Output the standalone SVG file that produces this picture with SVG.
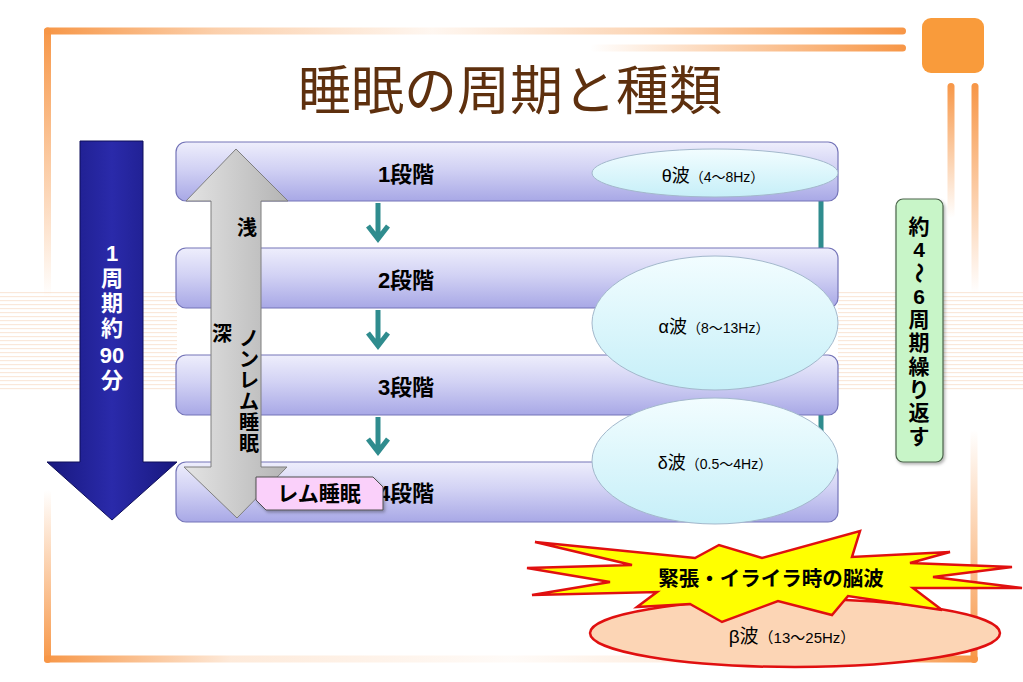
<svg xmlns="http://www.w3.org/2000/svg" width="1023" height="682" viewBox="0 0 1023 682">
<defs>
<style>
.jp{font-family:"Liberation Sans","Noto Sans CJK JP",sans-serif;}
.stage{font-size:22px;font-weight:bold;fill:#000;text-anchor:middle;}
.wave{fill:#000;text-anchor:middle;}
.box{fill:url(#gBox);stroke:#7474B8;stroke-width:1.2;}
.ell{fill:url(#gCyan);stroke:#A3B8CC;stroke-width:1;}
.tarrow{fill:none;stroke:#2F8C8E;stroke-width:5;stroke-linejoin:miter;}
.vt{text-anchor:middle;font-weight:bold;}
</style>
<linearGradient id="gBox" x1="0" y1="0" x2="0" y2="1">
<stop offset="0" stop-color="#EEEEFC"/>
<stop offset="0.45" stop-color="#D2D2F4"/>
<stop offset="1" stop-color="#A8A8E6"/>
</linearGradient>
<linearGradient id="gCyan" x1="0" y1="0" x2="0" y2="1">
<stop offset="0" stop-color="#F2FDFF"/>
<stop offset="1" stop-color="#C6EFF8"/>
</linearGradient>
<linearGradient id="gBlue" x1="0" y1="0" x2="1" y2="0">
<stop offset="0" stop-color="#18187E"/>
<stop offset="0.5" stop-color="#2A2AAA"/>
<stop offset="1" stop-color="#18187E"/>
</linearGradient>
<linearGradient id="gGray" x1="0" y1="0" x2="1" y2="0">
<stop offset="0" stop-color="#E4E4E4"/>
<stop offset="1" stop-color="#B4B4B4"/>
</linearGradient>
<linearGradient id="gTop" x1="0" y1="0" x2="1" y2="0">
<stop offset="0" stop-color="#F79646" stop-opacity="1"/>
<stop offset="0.2" stop-color="#F79646" stop-opacity="0.45"/>
<stop offset="0.45" stop-color="#F79646" stop-opacity="0.08"/>
<stop offset="0.7" stop-color="#F79646" stop-opacity="0.4"/>
<stop offset="1" stop-color="#F79646" stop-opacity="1"/>
</linearGradient>
<linearGradient id="gRight" x1="0" y1="0" x2="1" y2="0">
<stop offset="0" stop-color="#F79646" stop-opacity="0"/>
<stop offset="1" stop-color="#F79646" stop-opacity="1"/>
</linearGradient>
<linearGradient id="gDown" x1="0" y1="0" x2="0" y2="1">
<stop offset="0" stop-color="#F79646" stop-opacity="1"/>
<stop offset="1" stop-color="#F79646" stop-opacity="0"/>
</linearGradient>
<linearGradient id="gUp" x1="0" y1="0" x2="0" y2="1">
<stop offset="0" stop-color="#F79646" stop-opacity="0"/>
<stop offset="1" stop-color="#F79646" stop-opacity="1"/>
</linearGradient>
<linearGradient id="gBottom" x1="0" y1="0" x2="1" y2="0">
<stop offset="0" stop-color="#F79646" stop-opacity="1"/>
<stop offset="0.2" stop-color="#F79646" stop-opacity="0.2"/>
<stop offset="0.5" stop-color="#F79646" stop-opacity="0.04"/>
<stop offset="0.8" stop-color="#F79646" stop-opacity="0.25"/>
<stop offset="1" stop-color="#F79646" stop-opacity="1"/>
</linearGradient>
<pattern id="stripes" width="6" height="4" patternUnits="userSpaceOnUse">
<rect width="6" height="1.2" fill="#FAE8DA"/>
</pattern>
<filter id="sh" x="-10%" y="-10%" width="130%" height="140%">
<feDropShadow dx="1.5" dy="2" stdDeviation="1.5" flood-color="#000" flood-opacity="0.3"/>
</filter>
</defs>

<rect width="1023" height="682" fill="#FFFFFF"/>

<g id="background">
<rect x="0" y="290" width="177" height="102" fill="url(#stripes)"/>
<rect x="838" y="290" width="185" height="102" fill="url(#stripes)"/>
<rect x="44" y="27.5" width="862" height="7" rx="3.5" fill="url(#gTop)"/>
<rect x="590" y="44.5" width="316" height="7" rx="3.5" fill="url(#gRight)"/>
<rect x="44" y="27.5" width="7" height="270" rx="3.5" fill="url(#gDown)"/>
<rect x="44" y="490" width="7" height="173" rx="3.5" fill="url(#gUp)"/>
<rect x="44" y="655.5" width="934" height="7" rx="3.5" fill="url(#gBottom)"/>
<rect x="970.5" y="430" width="7" height="233" rx="3.5" fill="url(#gUp)"/>
<rect x="922" y="18" width="62" height="55" rx="9" fill="#F99B3B"/>
<rect x="947.5" y="83" width="7" height="135" rx="3.5" fill="url(#gDown)"/>
<rect x="971.5" y="83" width="7" height="210" rx="3.5" fill="url(#gDown)"/>
</g>

<g id="title">
<text x="510" y="110" text-anchor="middle" font-family="'Noto Sans CJK JP',sans-serif" font-size="53" fill="#5E300E">睡眠の周期と種類</text>
</g>

<g id="connectors">
<line x1="821" y1="200" x2="821" y2="462" stroke="#2F8C8E" stroke-width="5"/>
<path class="tarrow" d="M378,203 V238 M368,226 L378,239 L388,226"/>
<path class="tarrow" d="M378,310 V345 M368,333 L378,346 L388,333"/>
<path class="tarrow" d="M378,417 V451 M368,439 L378,452 L388,439"/>
</g>

<g id="stage1">
<rect class="box" x="176" y="142" width="662" height="59" rx="10"/>
<text class="jp stage" x="406" y="182">1段階</text>
</g>
<g id="stage2">
<rect class="box" x="176" y="248" width="662" height="60" rx="10"/>
<text class="jp stage" x="406" y="288">2段階</text>
</g>
<g id="stage3">
<rect class="box" x="176" y="355" width="662" height="60" rx="10"/>
<text class="jp stage" x="406" y="395">3段階</text>
</g>
<g id="stage4">
<rect class="box" x="176" y="462" width="662" height="60" rx="10"/>
<text class="jp stage" x="406" y="501">4段階</text>
</g>

<g id="cycle-arrow">
<polygon points="80,141 143,141 143,462 177,462 112,520 47,462 80,462" fill="url(#gBlue)" stroke="#0E0E5A" stroke-width="1"/>
<g class="jp vt" fill="#FFFFFF" font-size="22">
<text x="112" y="261">1</text>
<text x="112" y="286">周</text>
<text x="112" y="311">期</text>
<text x="112" y="336">約</text>
<text x="112" y="363">90</text>
<text x="112" y="388">分</text>
</g>
</g>

<g id="nonrem-arrow">
<polygon points="236,149 288,201 261,201 261,467 287,467 237,518 184,467 211,467 211,201 186,201" fill="url(#gGray)" stroke="#7F7F7F" stroke-width="1"/>
<g class="jp vt" fill="#000" font-size="20">
<text x="247" y="235">浅</text>
<text x="222" y="341">深</text>
<text x="249" y="346">ノ</text>
<text x="249" y="367">ン</text>
<text x="249" y="388">レ</text>
<text x="249" y="409">ム</text>
<text x="249" y="430">睡</text>
<text x="249" y="451">眠</text>
</g>
</g>

<g id="theta">
<ellipse class="ell" cx="715" cy="173" rx="123" ry="24"/>
<text class="jp wave" x="713" y="182"><tspan font-size="18">θ波</tspan><tspan font-size="14">（4〜8Hz）</tspan></text>
</g>
<g id="alpha">
<ellipse class="ell" cx="715" cy="323" rx="123" ry="67"/>
<text class="jp wave" x="714" y="333"><tspan font-size="18">α波</tspan><tspan font-size="14">（8〜13Hz）</tspan></text>
</g>
<g id="delta">
<ellipse class="ell" cx="715" cy="461" rx="123" ry="63"/>
<text class="jp wave" x="715" y="469"><tspan font-size="18">δ波</tspan><tspan font-size="14">（0.5〜4Hz）</tspan></text>
</g>

<g id="rem">
<polygon points="256,477 373,477 383,487 383,510 266,510 256,500" fill="#FAD0FA" stroke="#505050" stroke-width="1" filter="url(#sh)"/>
<text class="jp" x="319" y="501" text-anchor="middle" font-size="21" font-weight="bold" fill="#000">レム睡眠</text>
</g>

<g id="repeat">
<rect x="896" y="199" width="47" height="263" rx="7" fill="#C8F5C8" stroke="#4A644A" stroke-width="1.2" filter="url(#sh)"/>
<g class="jp vt" fill="#000" font-size="21">
<text x="919" y="234">約</text>
<text x="919" y="257">4</text>
<text x="919" y="280" transform="rotate(90 919 273)">〜</text>
<text x="919" y="304">6</text>
<text x="919" y="327">周</text>
<text x="919" y="350">期</text>
<text x="919" y="374">繰</text>
<text x="919" y="397">り</text>
<text x="919" y="420">返</text>
<text x="919" y="444">す</text>
</g>
</g>

<g id="beta">
<ellipse cx="795" cy="633" rx="205" ry="34" fill="#FCD5B5" stroke="#E01010" stroke-width="2.5"/>
<text class="jp wave" x="792" y="643"><tspan font-size="19">β波</tspan><tspan font-size="15">（13〜25Hz）</tspan></text>
</g>

<g id="stress">
<polygon points="535,542 695,558 719,545 762,558 860,531 852,557 950,552 910,563 1012,567 933,577 1022,588 913,588 942,610 848,596 832,615 778,601 722,622 690,604 637,607 657,592 532,595 610,582 527,568 632,565" fill="#FFFF00" stroke="#E01010" stroke-width="2.5" stroke-linejoin="miter"/>
<text class="jp" x="771" y="586" text-anchor="middle" font-size="20.5" font-weight="bold" fill="#000">緊張・イライラ時の脳波</text>
</g>
</svg>
